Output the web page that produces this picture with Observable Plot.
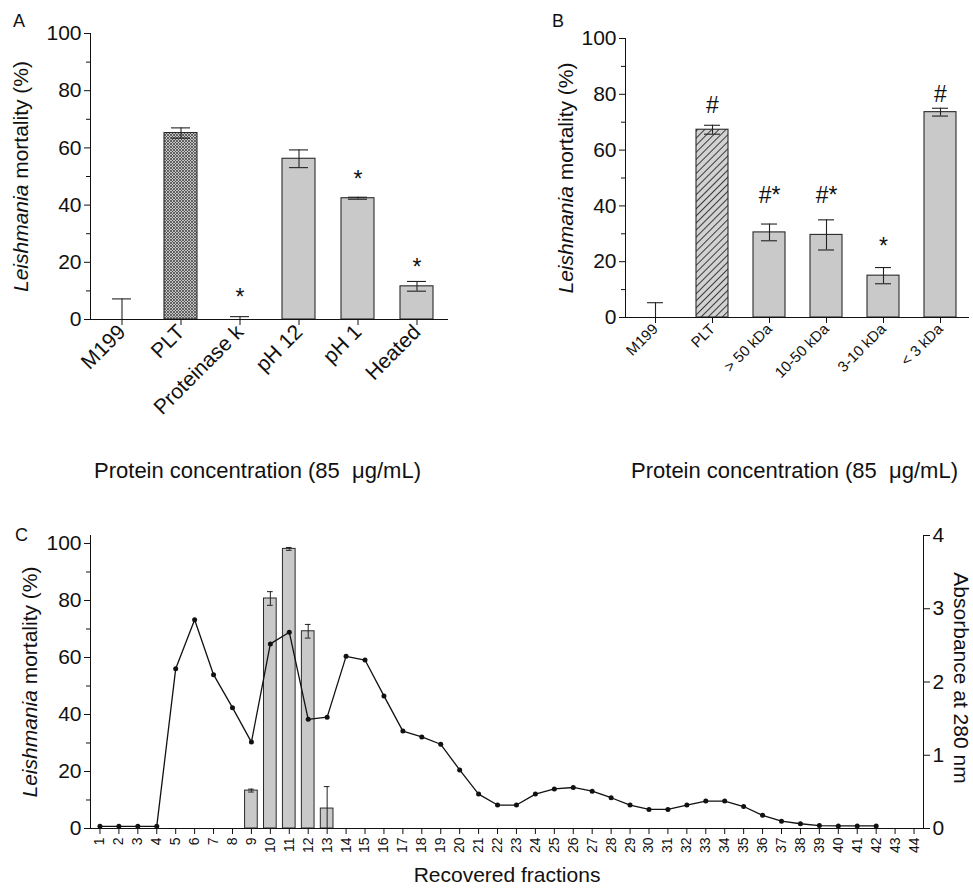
<!DOCTYPE html>
<html><head><meta charset="utf-8">
<script src="https://cdn.jsdelivr.net/npm/d3@7"></script>
<script src="https://cdn.jsdelivr.net/npm/@observablehq/plot@0.6"></script>
<style>
body{margin:0;background:#fff;}
#root{position:relative;width:973px;height:888px;overflow:hidden;font-family:"Liberation Sans",Arial,Helvetica,sans-serif;color:#111;}
.panel{position:absolute;}
.letter{position:absolute;font-size:18px;line-height:18px;}
</style></head><body>
<svg width="0" height="0" style="position:absolute">
  <defs>
    <pattern id="xhatch" patternUnits="userSpaceOnUse" width="3" height="3">
      <rect width="3" height="3" fill="#c4c4c4"/>
      <path d="M0,0 L3,3 M3,0 L0,3" stroke="#4a4a4a" stroke-width="0.8"/>
    </pattern>
    <pattern id="diag" patternUnits="userSpaceOnUse" width="5" height="5" patternTransform="rotate(45)">
      <rect width="5" height="5" fill="#d2d2d2"/>
      <line x1="0.5" y1="0" x2="0.5" y2="5" stroke="#3a3a3a" stroke-width="1"/>
    </pattern>
  </defs>
</svg>
<div id="root">
  <div class="letter" style="left:13px;top:12px;">A</div>
  <div class="letter" style="left:552px;top:12px;">B</div>
  <div class="letter" style="left:15px;top:526px;">C</div>
</div>
<script>
// ---------- Panel A data ----------
const catA = ["M199", "PLT", "Proteinase k", "pH 12", "pH 1", "Heated"];
const valA = [0, 65.2, 0, 56.2, 42.4, 11.6];
const errA = [7.2, 1.8, 1.0, 3.1, 0.35, 1.7];
const sigA = ["", "", "*", "", "*", "*"];
const sigYA = [null, null, 7.5, null, 49, 18];

// ---------- Panel B data ----------
const catB = ["M199", "PLT", "> 50 kDa", "10-50 kDa", "3-10 kDa", "< 3 kDa"];
const valB = [0, 67.3, 30.5, 29.6, 15.0, 73.6];
const errB = [5.3, 1.6, 3.0, 5.4, 2.9, 1.4];
const sigB = ["", "#", "#*", "#*", "*", "#"];
const sigYB = [null, 76, 43.7, 43.7, 25.5, 80];

// ---------- Panel C data ----------
const fractions = [1,2,3,4,5,6,7,8,9,10,11,12,13,14,15,16,17,18,19,20,21,22,
  23,24,25,26,27,28,29,30,31,32,33,34,35,36,37,38,39,40,41,42,43,44];
const barFrac = [9, 10, 11, 12, 13];
const barVal = [13.3, 80.7, 98.1, 69.2, 7.0];
const barErr = [0.5, 2.4, 0.5, 2.4, 7.7];
const absFrac = [1,2,3,4,5,6,7,8,9,10,11,12,13,14,15,16,17,18,19,20,21,
  22,23,24,25,26,27,28,29,30,31,32,33,34,35,36,37,38,39,40,41,42];
const absVal = [0.03,0.03,0.03,0.03,2.18,2.85,2.10,1.65,1.18,2.52,2.68,1.49,1.52,2.35,2.30,
  1.81,1.33,1.25,1.15,0.80,0.47,0.32,0.32,0.47,0.54,0.56,0.51,0.42,0.32,0.26,0.26,
  0.32,0.375,0.375,0.30,0.18,0.10,0.065,0.04,0.035,0.035,0.035];
const absTicks = [0, 1, 2, 3, 4];

const FONT = '"Liberation Sans", Arial, Helvetica, sans-serif';
const INK = "#111";
const BARFILL = "#c9c9c9";
const YLABEL = "Leishmania mortality (%)";
const XLABEL = "Protein concentration (85\u00a0 \u03bcg/mL)";
const CXLABEL = "Recovered fractions";
const CRLABEL = "Absorbance at 280 nm";

function italicize(svg) {
  svg.querySelectorAll("text").forEach(t => {
    if (t.textContent === YLABEL) {
      t.innerHTML = '<tspan font-style="italic">Leishmania</tspan> mortality (%)';
    }
  });
}

function place(el, left, top) {
  const d = document.createElement("div");
  d.className = "panel";
  d.style.left = left + "px";
  d.style.top = top + "px";
  d.appendChild(el);
  document.getElementById("root").appendChild(d);
}

function barPanel(cats, vals, errs, sigs, sigYs, o) {
  const rows = cats.map((c, i) => ({c, v: vals[i], e: errs[i], s: sigs[i], sy: sigYs[i]}));
  const svg = Plot.plot({
    width: o.width, height: o.height,
    marginLeft: o.ml, marginRight: o.mr, marginTop: o.mt, marginBottom: o.mb,
    style: {fontFamily: FONT, fontSize: "22px", color: INK, background: "transparent"},
    x: {type: "band", domain: cats, paddingInner: 0.44, paddingOuter: 0.22},
    y: {domain: [0, 100]},
    marks: [
      Plot.barY(rows, {x: "c", y: "v", fill: BARFILL, stroke: "#2a2a2a", strokeWidth: 1.1,
        filter: d => d.v > 0 && d.c !== "PLT"}),
      Plot.barY(rows, {x: "c", y: "v", fill: o.pltFill, stroke: "#2a2a2a", strokeWidth: 1.1,
        filter: d => d.c === "PLT"}),
      Plot.ruleX(rows, {x: "c", y1: d => Math.max(0, d.v - d.e), y2: d => d.v + d.e, stroke: "#222", strokeWidth: 1.1}),
      Plot.tickY(rows, {x: "c", y: d => d.v + d.e, stroke: "#222", strokeWidth: 1.1, insetLeft: o.cap, insetRight: o.cap}),
      Plot.tickY(rows, {x: "c", y: d => d.v - d.e, stroke: "#222", strokeWidth: 1.1, insetLeft: o.cap, insetRight: o.cap,
        filter: d => d.v - d.e > 0}),
      Plot.text(rows, {x: "c", y: "sy", text: "s", fontSize: 23, fill: INK, filter: d => d.s}),
      Plot.axisY({ticks: [0, 20, 40, 60, 80, 100], tickSize: 6, tickPadding: 3, fontSize: 21,
        label: YLABEL, labelAnchor: "center", labelOffset: o.ylo, labelArrow: false}),
      Plot.axisY({ticks: [10, 30, 50, 70, 90], tickSize: 4, tickFormat: () => "", label: null}),
      Plot.frame({anchor: "left", stroke: INK}),
      Plot.ruleY([0], {stroke: INK}),
      Plot.axisX({tickSize: 6, tickPadding: 3, tickRotate: -45, fontSize: o.xfs, label: null}),
      Plot.text([XLABEL], {text: d => d, frameAnchor: "bottom", textAnchor: "middle", lineAnchor: "middle",
        dy: o.xlo, dx: o.xdx, fontSize: 22, fill: INK})
    ]
  });
  italicize(svg);
  return svg;
}

place(barPanel(catA, valA, errA, sigA, sigYA,
  {width: 470, height: 490, ml: 90, mr: 22, mt: 33, mb: 171, pltFill: "url(#xhatch)", cap: 7, ylo: 77, xlo: 151, xdx: -12, xfs: 21}), 0, 0);

place(barPanel(catB, valB, errB, sigB, sigYB,
  {width: 493, height: 490, ml: 145, mr: 4, mt: 38, mb: 173, pltFill: "url(#diag)", cap: 8, ylo: 67, xlo: 153, xdx: -3, xfs: 15}), 480, 0);

// ---------- Panel C ----------
const yTop = 102.8;
const K = yTop / 4; // absorbance unit expressed on the mortality scale
const barRows = barFrac.map((f, i) => ({f, v: barVal[i], e: barErr[i]}));
const absRows = absFrac.map((f, i) => ({f, a: absVal[i]}));

const svgC = Plot.plot({
  width: 973, height: 368,
  marginLeft: 90, marginRight: 50, marginTop: 15, marginBottom: 60,
  style: {fontFamily: FONT, fontSize: "22px", color: INK, background: "transparent"},
  x: {type: "band", domain: fractions, paddingInner: 0.33, paddingOuter: 0.165},
  y: {domain: [0, yTop]},
  marks: [
    Plot.barY(barRows, {x: "f", y: "v", fill: BARFILL, stroke: "#2a2a2a", strokeWidth: 1}),
    Plot.ruleX(barRows, {x: "f", y1: d => Math.max(0, d.v - d.e), y2: d => d.v + d.e, stroke: "#222", strokeWidth: 1}),
    Plot.tickY(barRows, {x: "f", y: d => d.v + d.e, stroke: "#222", strokeWidth: 1, insetLeft: 3.5, insetRight: 3.5}),
    Plot.tickY(barRows, {x: "f", y: d => d.v - d.e, stroke: "#222", strokeWidth: 1, insetLeft: 3.5, insetRight: 3.5,
      filter: d => d.v - d.e > 0}),
    Plot.line(absRows, {x: "f", y: d => d.a * K, stroke: "#111", strokeWidth: 1.3}),
    Plot.dot(absRows, {x: "f", y: d => d.a * K, r: 2.5, fill: "#111"}),
    Plot.axisY({ticks: [0, 20, 40, 60, 80, 100], tickSize: 6, tickPadding: 3, fontSize: 21,
      label: YLABEL, labelAnchor: "center", labelOffset: 68, labelArrow: false}),
    Plot.axisY({ticks: [10, 30, 50, 70, 90], tickSize: 4, tickFormat: () => "", label: null}),
    Plot.axisY({anchor: "right", ticks: absTicks.map(a => a * K), tickFormat: d => String(Math.round(d / K)),
      tickSize: 6, tickPadding: 3, fontSize: 21, label: null}),
    Plot.text([CRLABEL], {text: d => d, frameAnchor: "right", textAnchor: "middle", lineAnchor: "middle",
      rotate: 90, dx: 37, dy: -4, fontSize: 21, fill: INK}),
    Plot.frame({anchor: "left", stroke: INK}),
    Plot.frame({anchor: "right", stroke: INK}),
    Plot.ruleY([0], {stroke: INK}),
    Plot.axisX({tickSize: 6, tickPadding: 3, tickRotate: -90, fontSize: 14, label: null}),
    Plot.text([CXLABEL], {text: d => d, frameAnchor: "bottom", textAnchor: "middle", lineAnchor: "middle",
      dy: 47, fontSize: 21, fill: INK})
  ]
});
italicize(svgC);
place(svgC, 0, 520);
</script>
</body></html>
